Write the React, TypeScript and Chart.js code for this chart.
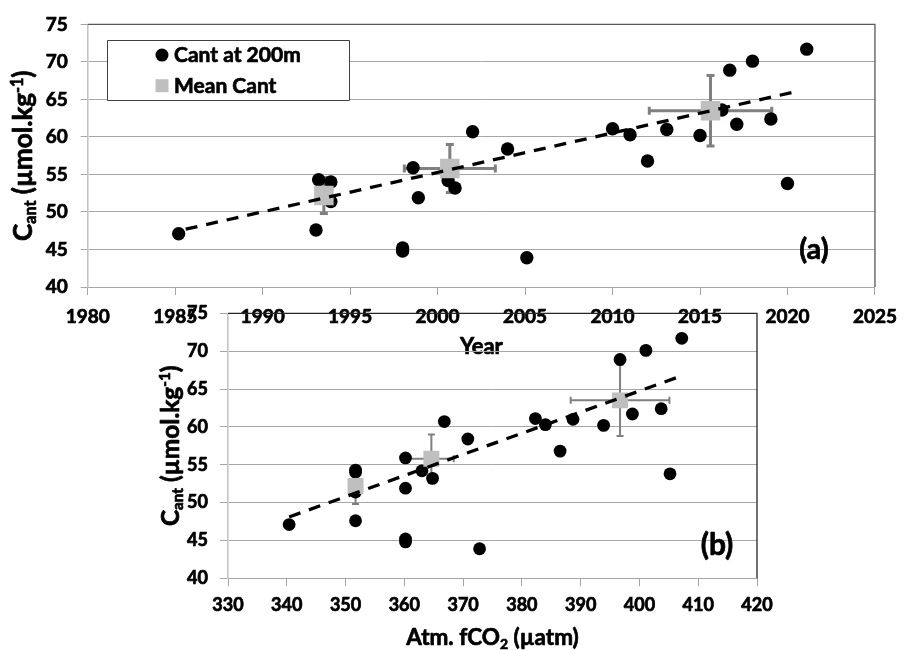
import React, { useEffect, useRef } from 'react';
import { Chart, registerables } from 'chart.js';

Chart.register(...registerables);

const FONT = 'Lato, "Open Sans", sans-serif';
const WEIGHT = 'bold';
const STROKE = 0.7;

// ---- Data: individual Cant estimates at 200 m ----
const years = [1985.2, 1993.2, 1993.9, 1993.9, 1993.05, 1998.0, 1998.0, 1998.6, 1998.9, 2000.6, 2001.0, 2002.0, 2004.0, 2005.1, 2010.0, 2011.0, 2012.0, 2013.1, 2015.0, 2016.25, 2016.7, 2017.1, 2018.0, 2019.05, 2020.0, 2021.1];
const cant = [47.1, 54.3, 54.0, 51.4, 47.6, 45.2, 44.8, 55.9, 51.9, 54.2, 53.2, 60.7, 58.4, 43.9, 61.1, 60.3, 56.8, 61.0, 60.2, 63.6, 68.9, 61.7, 70.1, 62.4, 53.8, 71.7];
const fco2 = [340.4, 351.7, 351.7, 351.7, 351.7, 360.2, 360.2, 360.2, 360.2, 363.0, 364.8, 366.8, 370.8, 372.8, 382.3, 384.0, 386.5, 388.7, 393.9, 396.6, 396.7, 398.8, 401.1, 403.7, 405.2, 407.2];

// ---- Mean Cant with error bars ----
const meanYear = [1993.5, 2000.7, 2015.6];
const meanYearErr = [0.4, 2.6, 3.5];
const meanCant = [52.2, 55.8, 63.5];
const meanCantErr = [2.4, 3.2, 4.7];
const meanFco2 = [351.7, 364.6, 396.7];
const meanFco2Err = [0.3, 3.8, 8.4];

// ---- Linear trends (end points) ----
const trendYearX = [1985.6, 2020.4];
const trendYearY = [47.7, 66.0];
const trendFco2X = [340.4, 406.3];
const trendFco2Y = [48.1, 66.5];

// ---- Tick labels ----
const cantTicks = [40, 45, 50, 55, 60, 65, 70, 75];
const yearTicks = [1980, 1985, 1990, 1995, 2000, 2005, 2010, 2015, 2020, 2025];
const fco2Ticks = [330, 340, 350, 360, 370, 380, 390, 400, 410, 420];

type Seg = { t: string; k?: 'sub' | 'sup' };

function segFont(size: number, k?: string) {
  const s = k ? size * 0.62 : size;
  return `${WEIGHT} ${s}px ${FONT}`;
}

function heavyText(ctx: CanvasRenderingContext2D, text: string, x: number, y: number) {
  ctx.fillText(text, x, y);
  ctx.strokeText(text, x, y);
}

function drawSegs(ctx: CanvasRenderingContext2D, segs: Seg[], size: number, cx: number, baseY: number) {
  ctx.textAlign = 'left';
  ctx.textBaseline = 'alphabetic';
  ctx.strokeStyle = '#000';
  ctx.lineWidth = STROKE;
  ctx.lineJoin = 'round';
  const ws = segs.map((s) => {
    ctx.font = segFont(size, s.k);
    return ctx.measureText(s.t).width;
  });
  let x = cx - ws.reduce((a, b) => a + b, 0) / 2;
  segs.forEach((s, i) => {
    ctx.font = segFont(size, s.k);
    const dy = s.k === 'sub' ? size * 0.16 : s.k === 'sup' ? -size * 0.37 : 0;
    heavyText(ctx, s.t, x, baseY + dy);
    x += ws[i];
  });
}

interface DecorCfg {
  frameColor: string;
  eb: { x: number[]; y: number[]; xErr: number[]; yErr: number[]; color: string; width: number; cap: number };
  yTitle: { segs: Seg[]; size: number; dx: number };
  xTitle: { segs: Seg[]; size: number; dy: number };
  label: { text: string; size: number; dx: number; dy: number };
  legend: boolean;
}

function makeDecor(cfg: DecorCfg) {
  return {
    id: 'decor',
    beforeDatasetsDraw(chart: any) {
      const { ctx, chartArea: a, scales } = chart;
      ctx.save();
      ctx.strokeStyle = cfg.frameColor;
      ctx.lineWidth = 1.3;
      ctx.beginPath();
      ctx.moveTo(a.left, a.top);
      ctx.lineTo(a.right, a.top);
      ctx.lineTo(a.right, a.bottom);
      ctx.stroke();
      const xs = scales.x, ys = scales.y;
      const e = cfg.eb;
      ctx.strokeStyle = e.color;
      ctx.lineWidth = e.width;
      ctx.lineCap = 'butt';
      e.x.forEach((xv, i) => {
        const yv = e.y[i];
        const px = xs.getPixelForValue(xv);
        const py = ys.getPixelForValue(yv);
        const x0 = xs.getPixelForValue(xv - e.xErr[i]);
        const x1 = xs.getPixelForValue(xv + e.xErr[i]);
        const y0 = ys.getPixelForValue(yv - e.yErr[i]);
        const y1 = ys.getPixelForValue(yv + e.yErr[i]);
        const h = e.cap / 2;
        ctx.beginPath();
        ctx.moveTo(x0, py); ctx.lineTo(x1, py);
        ctx.moveTo(x0, py - h); ctx.lineTo(x0, py + h);
        ctx.moveTo(x1, py - h); ctx.lineTo(x1, py + h);
        ctx.moveTo(px, y0); ctx.lineTo(px, y1);
        ctx.moveTo(px - h, y0); ctx.lineTo(px + h, y0);
        ctx.moveTo(px - h, y1); ctx.lineTo(px + h, y1);
        ctx.stroke();
      });
      ctx.restore();
    },
    afterDraw(chart: any) {
      const { ctx, chartArea: a } = chart;
      ctx.save();
      ctx.fillStyle = '#000';
      ctx.save();
      ctx.translate(a.left + cfg.yTitle.dx, (a.top + a.bottom) / 2);
      ctx.rotate(-Math.PI / 2);
      drawSegs(ctx, cfg.yTitle.segs, cfg.yTitle.size, 0, 0);
      ctx.restore();
      drawSegs(ctx, cfg.xTitle.segs, cfg.xTitle.size, (a.left + a.right) / 2, a.bottom + cfg.xTitle.dy);
      ctx.font = `${WEIGHT} ${cfg.label.size}px ${FONT}`;
      ctx.textAlign = 'center';
      ctx.textBaseline = 'middle';
      ctx.strokeStyle = '#000';
      ctx.lineWidth = STROKE;
      heavyText(ctx, cfg.label.text, a.right + cfg.label.dx, a.bottom + cfg.label.dy);
      if (cfg.legend) {
        const ds = chart.data.datasets;
        const L = a.left + 19.3, T = a.top + 15.7, W = 242, H = 60;
        ctx.fillStyle = '#fff';
        ctx.fillRect(L, T, W, H);
        ctx.strokeStyle = '#404040';
        ctx.lineWidth = 1;
        ctx.strokeRect(Math.round(L) + 0.5, Math.round(T) + 0.5, W, H);
        ctx.fillStyle = ds[2].backgroundColor;
        ctx.beginPath();
        ctx.arc(L + 55, T + 15, 6.5, 0, Math.PI * 2);
        ctx.fill();
        ctx.fillStyle = ds[1].backgroundColor;
        ctx.fillRect(L + 55 - 6.5, T + 45.6 - 6.5, 13, 13);
        ctx.fillStyle = '#000';
        ctx.strokeStyle = '#000';
        ctx.lineWidth = STROKE;
        ctx.font = `${WEIGHT} 21px ${FONT}`;
        ctx.textAlign = 'left';
        ctx.textBaseline = 'alphabetic';
        heavyText(ctx, ds[2].label, L + 67, T + 22.3);
        heavyText(ctx, ds[1].label, L + 67, T + 52.6);
      }
      ctx.restore();
    },
  };
}

const cantTitle: Seg[] = [{ t: 'C' }, { t: 'ant', k: 'sub' }, { t: ' (µmol.kg' }, { t: '-1', k: 'sup' }, { t: ')' }];

function buildConfig(panel: 'a' | 'b'): any {
  const isA = panel === 'a';
  const xVals = isA ? years : fco2;
  const mX = isA ? meanYear : meanFco2;
  const mXErr = isA ? meanYearErr : meanFco2Err;
  const tX = isA ? trendYearX : trendFco2X;
  const tY = isA ? trendYearY : trendFco2Y;
  const xTicks = isA ? yearTicks : fco2Ticks;
  const tickSize = isA ? 19 : 18;
  const gridColor = '#A6A6A6';
  const tickFont = { family: FONT, size: tickSize, weight: WEIGHT };
  return {
    type: 'scatter',
    data: {
      datasets: [
        {
          label: 'Trend',
          data: tX.map((x, i) => ({ x, y: tY[i] })),
          showLine: true,
          borderColor: '#000',
          borderWidth: 3.3,
          borderDash: [12, 9],
          pointRadius: 0,
          fill: false,
          order: 0,
        },
        {
          label: 'Mean Cant',
          data: mX.map((x, i) => ({ x, y: meanCant[i] })),
          pointStyle: 'rect',
          pointRadius: isA ? 13.8 : 11.3,
          backgroundColor: '#BFBFBF',
          borderWidth: 0,
          order: 1,
        },
        {
          label: 'Cant at 200m',
          data: xVals.map((x, i) => ({ x, y: cant[i] })),
          pointStyle: 'circle',
          pointRadius: isA ? 6.7 : 6.4,
          backgroundColor: '#000',
          borderWidth: 0,
          order: 2,
        },
      ],
    },
    options: {
      responsive: false,
      animation: false,
      events: [],
      layout: { padding: isA ? { left: 0, top: 21, right: 25, bottom: 0 } : { left: 0, top: 23.3, right: 150, bottom: 0 } },
      plugins: { legend: { display: false }, tooltip: { enabled: false } },
      scales: {
        x: {
          type: 'linear',
          min: xTicks[0],
          max: xTicks[xTicks.length - 1],
          afterBuildTicks: (s: any) => { s.ticks = xTicks.map((v) => ({ value: v })); },
          afterFit: (s: any) => { s.height = isA ? 73 : 71.7; },
          grid: { drawOnChartArea: false, drawTicks: true, tickLength: 8, color: gridColor },
          border: { color: gridColor, width: 1 },
          ticks: {
            font: tickFont,
            color: '#000',
            textStrokeColor: '#000',
            textStrokeWidth: STROKE,
            padding: isA ? 10 : 8,
            maxRotation: 0,
            autoSkip: false,
            callback: (v: any) => String(v),
          },
        },
        y: {
          type: 'linear',
          min: cantTicks[0],
          max: cantTicks[cantTicks.length - 1],
          afterBuildTicks: (s: any) => { s.ticks = cantTicks.map((v) => ({ value: v })); },
          afterFit: (s: any) => { s.width = isA ? 87.7 : 228; },
          grid: { color: gridColor, tickLength: isA ? 7 : 8, lineWidth: 1 },
          border: { color: '#C4C4C4', width: 1.6 },
          ticks: {
            font: tickFont,
            color: '#000',
            textStrokeColor: '#000',
            textStrokeWidth: STROKE,
            padding: isA ? 13 : 12,
            autoSkip: false,
            callback: (v: any) => String(v),
          },
        },
      },
    },
    plugins: [
      makeDecor({
        frameColor: isA ? '#595959' : '#262626',
        eb: {
          x: mX,
          y: meanCant,
          xErr: mXErr,
          yErr: meanCantErr,
          color: '#808080',
          width: isA ? 3 : 2,
          cap: isA ? 8 : 7,
        },
        yTitle: { segs: cantTitle, size: isA ? 26 : 24.5, dx: isA ? -55.4 : -48.7 },
        xTitle: isA
          ? { segs: [{ t: 'Year' }], size: 22, dy: 67 }
          : { segs: [{ t: 'Atm. fCO' }, { t: '2', k: 'sub' }, { t: ' (µatm)' }], size: 22.5, dy: 66.7 },
        label: isA ? { text: '(a)', size: 29, dx: -61, dy: -37 } : { text: '(b)', size: 30, dx: -40, dy: -33 },
        legend: isA,
      }),
    ],
  };
}

function Panel({ panel, top }: { panel: 'a' | 'b'; top: number }) {
  const ref = useRef<HTMLCanvasElement>(null);
  useEffect(() => {
    const chart = new Chart(ref.current as HTMLCanvasElement, buildConfig(panel));
    let alive = true;
    const fonts: any = (document as any).fonts;
    if (fonts && fonts.load) {
      fonts.load(`${WEIGHT} 20px Lato`).then(() => { if (alive) chart.update(); }).catch(() => {});
    }
    return () => {
      alive = false;
      chart.destroy();
    };
  }, [panel]);
  return (
    <canvas
      ref={ref}
      width={907}
      height={360}
      style={{ position: 'absolute', left: 0, top, width: 907, height: 360 }}
    />
  );
}

export default function App() {
  return (
    <div style={{ position: 'absolute', left: 0, top: 0, width: 907, height: 650, background: '#fff' }}>
      <Panel panel="a" top={0} />
      <Panel panel="b" top={290} />
    </div>
  );
}
